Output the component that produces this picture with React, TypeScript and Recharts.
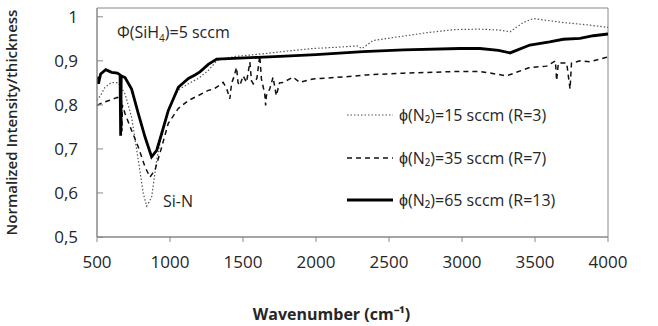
import { LineChart, Line, XAxis, YAxis, ReferenceArea, Label } from "recharts";

const X_TICKS = [500, 1000, 1500, 2000, 2500, 3000, 3500, 4000];
const Y_TICKS = [0.5, 0.6, 0.7, 0.8, 0.9, 1];

// 15 sccm (R=3), dotted
const n2_15 = [
  [500, 0.81], [530, 0.825], [555, 0.84], [600, 0.851], [646, 0.85], [692, 0.825],
  [737, 0.772], [783, 0.674], [817, 0.599], [840, 0.57], [874, 0.59], [909, 0.674],
  [943, 0.735], [988, 0.791], [1057, 0.834], [1126, 0.848], [1194, 0.86], [1262, 0.878],
  [1320, 0.9], [1354, 0.904], [1450, 0.91], [1637, 0.916], [1800, 0.922], [1980, 0.928],
  [2150, 0.931], [2281, 0.934], [2315, 0.928], [2390, 0.946], [2530, 0.953], [2760, 0.964],
  [2950, 0.971], [3123, 0.972], [3250, 0.97], [3329, 0.966], [3420, 0.987], [3488, 0.996],
  [3694, 0.987], [3850, 0.982], [4000, 0.976],
];

// 35 sccm (R=7), dashed
const n2_35 = [
  [500, 0.799], [540, 0.805], [582, 0.81], [640, 0.817], [668, 0.81], [671, 0.74], [674, 0.8],
  [692, 0.78], [737, 0.742], [783, 0.704], [829, 0.659], [863, 0.636], [897, 0.652],
  [943, 0.704], [988, 0.758], [1057, 0.792], [1126, 0.81], [1194, 0.821], [1262, 0.833],
  [1296, 0.835], [1340, 0.845], [1364, 0.851], [1387, 0.838], [1410, 0.814], [1422, 0.85],
  [1433, 0.859], [1456, 0.885], [1466, 0.85], [1478, 0.844], [1501, 0.866], [1524, 0.851],
  [1547, 0.897], [1558, 0.855], [1570, 0.848], [1595, 0.86], [1615, 0.912], [1626, 0.859],
  [1649, 0.825], [1655, 0.799], [1660, 0.821], [1683, 0.836], [1706, 0.863], [1728, 0.821],
  [1750, 0.85], [1774, 0.851], [1843, 0.863], [1888, 0.851], [1980, 0.859], [2208, 0.864],
  [2345, 0.868], [2600, 0.872], [2985, 0.876], [3123, 0.876], [3306, 0.866], [3465, 0.885],
  [3580, 0.888], [3640, 0.9], [3648, 0.855], [3660, 0.895], [3717, 0.895], [3740, 0.836],
  [3750, 0.895], [3808, 0.9], [3877, 0.898], [3990, 0.908], [4000, 0.91],
];

// 65 sccm (R=13), solid
const n2_65 = [
  [500, 0.864], [510, 0.848], [525, 0.87], [560, 0.88], [600, 0.874], [640, 0.872],
  [658, 0.868], [662, 0.73], [666, 0.866], [692, 0.862], [737, 0.836], [783, 0.78],
  [829, 0.727], [863, 0.693], [874, 0.682], [909, 0.697], [943, 0.735], [988, 0.787],
  [1057, 0.84], [1126, 0.86], [1171, 0.868], [1205, 0.875], [1262, 0.892], [1320, 0.904],
  [1400, 0.905], [1600, 0.908], [1753, 0.91], [2000, 0.914], [2322, 0.921], [2600, 0.925],
  [2985, 0.928], [3123, 0.928], [3250, 0.924], [3329, 0.918], [3465, 0.936], [3600, 0.943],
  [3694, 0.949], [3808, 0.951], [3900, 0.957], [4000, 0.961],
];

const toPoints = (rows: number[][]) => rows.map(([x, y]) => ({ x, y }));

const SERIES = [
  { name: "ϕ(N₂)=15 sccm (R=3)", data: toPoints(n2_15), stroke: "#555", width: 1.2, dash: "1.5 2" },
  { name: "ϕ(N₂)=35 sccm (R=7)", data: toPoints(n2_35), stroke: "#111", width: 1.5, dash: "5 4" },
  { name: "ϕ(N₂)=65 sccm (R=13)", data: toPoints(n2_65), stroke: "#000", width: 2.8, dash: undefined },
];

const FONT = "'Open Sans', sans-serif";
const TEXT = "#262626";

const formatY = (v: number) => (v === 1 ? "1" : v.toFixed(1).replace(".", ","));

const YTick = (props: any) => {
  const { x, y, payload } = props;
  return (
    <g>
      <line x1={x + 19} x2={x + 25} y1={y} y2={y} stroke="#888" />
      <text x={x} y={y} dy="0.35em" textAnchor="end" fill={TEXT} fontSize={17} fontFamily={FONT}>
        {formatY(payload.value)}
      </text>
    </g>
  );
};

const LegendBox = () => (
  <div style={{ position: "absolute", left: 345, top: 94, fontFamily: FONT, fontSize: 16, color: TEXT }}>
    {SERIES.map((s) => (
      <div key={s.name} style={{ display: "flex", alignItems: "center", height: 42.5 }}>
        <svg width={50} height={10} style={{ marginRight: 4 }}>
          <line x1={2} x2={48} y1={5} y2={5} stroke={s.stroke} strokeWidth={s.width} strokeDasharray={s.dash} />
        </svg>
        <span>{s.name}</span>
      </div>
    ))}
  </div>
);

export default function App() {
  return (
    <div style={{ position: "absolute", left: 0, top: 0, width: 658, height: 326, background: "#fff" }}>
      <LineChart width={658} height={326} margin={{ top: 8, right: 50, bottom: 0, left: 0 }}>
        <ReferenceArea x1={500} x2={4000} y1={0.5} y2={1.02} stroke="#888" fill="none" strokeWidth={1} />
        <XAxis
          type="number"
          dataKey="x"
          domain={[500, 4000]}
          ticks={X_TICKS}
          allowDataOverflow
          height={89}
          stroke="#888"
          tickSize={5}
          tickMargin={14}
          tick={{ fill: TEXT, fontSize: 17, fontFamily: FONT }}
        >
          <Label
            value="Wavenumber (cm⁻¹)"
            position="insideBottom"
            offset={6}
            dx={-21}
            style={{ fill: TEXT, fontSize: 16, fontWeight: 700, fontFamily: FONT }}
          />
        </XAxis>
        <YAxis
          type="number"
          dataKey="y"
          domain={[0.5, 1.02]}
          ticks={Y_TICKS}
          allowDataOverflow
          width={97}
          stroke="#888"
          tickLine={false}
          tickSize={0}
          tickMargin={19}
          tick={<YTick />}
        >
          <Label
            value="Normalized  Intensity/thickness"
            angle={-90}
            position="insideLeft"
            offset={12}
            style={{ fill: TEXT, fontSize: 15, fontWeight: 600, fontFamily: FONT, textAnchor: "middle" }}
          />
        </YAxis>
        {SERIES.map((s) => (
          <Line
            key={s.name}
            data={s.data}
            dataKey="y"
            name={s.name}
            type="linear"
            stroke={s.stroke}
            strokeWidth={s.width}
            strokeDasharray={s.dash}
            dot={false}
            isAnimationActive={false}
          />
        ))}
      </LineChart>
      <LegendBox />
      <div style={{ position: "absolute", left: 117, top: 21, fontFamily: FONT, fontSize: 16, color: TEXT }}>
        Φ(SiH<sub style={{ fontSize: 10 }}>4</sub>)=5 sccm
      </div>
      <div style={{ position: "absolute", left: 163, top: 190, fontFamily: FONT, fontSize: 16, color: TEXT }}>
        Si-N
      </div>
    </div>
  );
}
